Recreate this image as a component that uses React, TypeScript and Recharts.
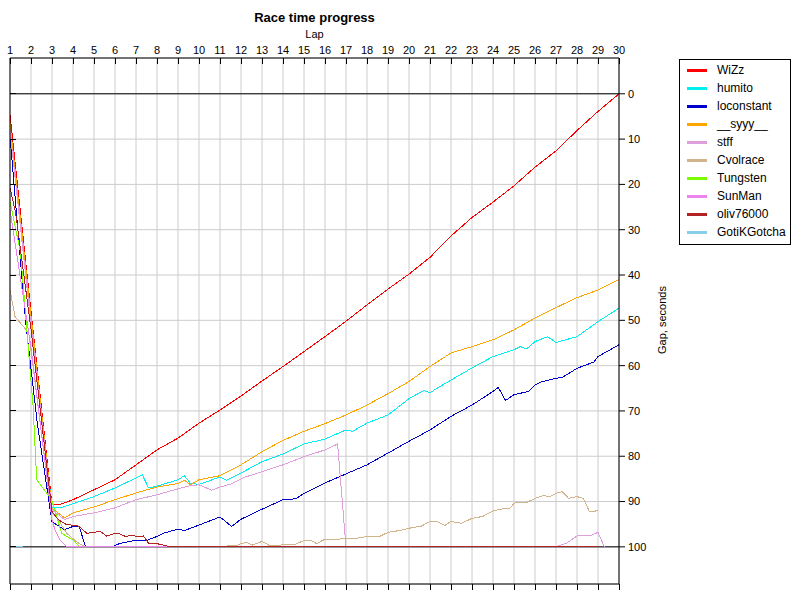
import React from 'react';
import { LineChart, Line, XAxis, YAxis, CartesianGrid, ReferenceLine } from 'recharts';

const LAP_TICKS = [1, 2, 3, 4, 5, 6, 7, 8, 9, 10, 11, 12, 13, 14, 15, 16, 17, 18, 19, 20, 21, 22, 23, 24, 25, 26, 27, 28, 29, 30];
const GAP_TICKS = [0, 10, 20, 30, 40, 50, 60, 70, 80, 90, 100];
const X_DOMAIN = [1, 30];
const Y_DOMAIN = [-7.9, 108.2];

const WIZZ_LAPS = [1, 2, 3, 3.4, 4, 5, 6, 7, 8, 9, 10, 11, 12, 13, 14, 15, 16, 17, 18, 19, 20, 21, 22, 23, 24, 25, 26, 27, 28, 29, 30];
const WIZZ_GAPS = [4.6, 48, 90.7, 90.6, 89.6, 87.4, 85.2, 81.9, 78.6, 76, 72.7, 69.8, 66.7, 63.4, 60.2, 56.9, 53.6, 50.2, 46.6, 43.1, 39.8, 36.1, 31.4, 27.3, 23.9, 20.3, 16.2, 12.6, 8.1, 3.9, 0];

const HUMITO_LAPS = [1, 2, 3, 3.4, 4, 5, 6, 7, 7.3, 7.6, 8, 9, 9.3, 9.6, 10, 11, 11.3, 12, 13, 14, 15, 16, 17, 17.3, 18, 19, 20, 20.7, 21, 21.4, 22, 23, 24, 25, 25.3, 25.6, 26, 26.6, 27, 28, 29, 30];
const HUMITO_GAPS = [7.9, 50, 91.2, 91.4, 90.5, 88.9, 87, 84.8, 84.1, 87, 86.6, 85.2, 84.3, 86, 86.2, 84.6, 85.3, 83.7, 81.2, 79.5, 77.3, 76.2, 74.2, 74.5, 72.7, 70.9, 67.3, 65.5, 66, 64.8, 63.2, 60.5, 58, 56.5, 55.8, 56.3, 54.7, 53.6, 54.9, 53.6, 50.3, 47.3];

const LOCONSTANT_LAPS = [1, 1.75, 2.3, 3, 3.6, 4, 4.3, 4.6, 5.85, 6.2, 6.5, 7, 7.5, 8, 8.3, 9, 9.3, 10, 11, 11.55, 12, 13, 14, 14.6, 15, 16, 17, 18, 19, 20, 21, 22, 23, 24, 24.25, 24.6, 25, 25.7, 26, 26.3, 27, 27.3, 28, 28.8, 29, 30];
const LOCONSTANT_GAPS = [9.4, 50.6, 72.7, 94.5, 96.2, 95.5, 95.6, 100, 100, 99.3, 99, 98.5, 98.6, 97.7, 97, 96.1, 96.4, 95.2, 93.4, 95.5, 93.9, 91.7, 89.6, 89.4, 88.2, 85.9, 83.9, 81.9, 79.3, 76.7, 74.2, 71.2, 68.7, 65.7, 64.8, 67.7, 66.4, 65.7, 64.3, 63.6, 62.8, 62.6, 60.6, 59.2, 58, 55.4];

const SYYY_LAPS = [1, 2, 3, 3.6, 4, 5, 6, 7, 8, 9, 9.3, 9.6, 10, 11, 12, 13, 14, 15, 16, 17, 18, 19, 20, 21, 22, 23, 24, 25, 26, 27, 28, 29, 30];
const SYYY_GAPS = [6.5, 49, 91.5, 93.6, 92.5, 91.2, 89.6, 88.1, 86.8, 86, 85.3, 86.3, 85.2, 84.3, 81.9, 79, 76.5, 74.5, 72.8, 70.9, 68.7, 66.2, 63.5, 60.2, 57.2, 55.8, 54.3, 52.1, 49.5, 47.2, 45, 43.3, 41];

const STFF_LAPS = [1, 2, 3, 3.6, 4, 5, 6, 7, 8, 9, 9.6, 10, 10.6, 11, 11.55, 12.2, 13, 14, 15, 16, 16.6, 17, 27, 27.5, 28, 28.6, 29, 29.3];
const STFF_GAPS = [8, 51, 91.8, 94, 93.3, 92.5, 91.4, 89.6, 88.5, 87.2, 86.5, 86.3, 87.5, 86.8, 86.1, 84.6, 83.4, 81.9, 80.1, 78.6, 77.3, 100, 100, 99.2, 97.6, 97.6, 96.8, 100];

const CVOLRACE_LAPS = [1, 1.24, 1.7, 1.9, 2.5, 3, 3.3, 3.7, 4.2, 4.6, 11.2, 11.4, 11.8, 12, 12.25, 12.55, 13, 13.35, 13.75, 14.2, 14.6, 15, 15.35, 15.6, 16, 16.5, 17, 17.5, 18, 18.6, 19, 19.55, 20, 20.6, 21, 21.3, 21.7, 22, 22.5, 23, 23.5, 24, 24.3, 24.8, 25, 25.25, 25.6, 26, 26.4, 26.7, 27, 27.3, 27.6, 28, 28.3, 28.6, 29];
const CVOLRACE_GAPS = [43.3, 49.2, 51.7, 53, 75, 92.5, 94, 97, 99, 100, 100, 99.7, 99.7, 99.3, 99, 99.6, 98.8, 99.7, 99.7, 99.4, 99.4, 98.6, 98.6, 99.3, 98.3, 98.4, 98.1, 98.1, 97.7, 97.7, 96.8, 96.4, 95.9, 95.4, 94.4, 94.3, 95.3, 94.4, 94.8, 93.7, 93.3, 92.1, 91.7, 91.5, 90.4, 90.1, 90.2, 89.3, 88.7, 88.9, 88.2, 87.8, 89.3, 88.9, 89.3, 92.3, 92];

const TUNGSTEN_LAPS = [1, 1.5, 2.1, 2.27, 2.98, 3.46, 4, 4.33];
const TUNGSTEN_GAPS = [23.8, 35, 69, 85.2, 89.6, 97, 98.5, 100];

const SUNMAN_LAPS = [1, 2, 3, 3.14, 3.38, 3.7, 28];
const SUNMAN_GAPS = [25.6, 56, 94, 96.2, 98.5, 100, 100];

const OLIV_LAPS = [1, 1.27, 2, 3, 3.3, 3.7, 4.2, 4.4, 4.65, 5, 5.3, 5.6, 6, 6.2, 6.5, 6.8, 7.1, 7.35, 7.6, 8, 8.3, 8.6, 29];
const OLIV_GAPS = [20.8, 26.3, 52, 92.2, 94, 95.1, 95.3, 95.9, 97, 96.8, 96.6, 97.6, 97, 97.1, 97.7, 97.5, 97.7, 97.6, 99.2, 99.3, 99.6, 100, 100];

const GOTIK_LAPS = [1.3, 1.62];
const GOTIK_GAPS = [100, 100];

const SERIES = [
  { name: 'WiZz', color: '#FF0000', laps: WIZZ_LAPS, gaps: WIZZ_GAPS },
  { name: 'humito', color: '#00F0F0', laps: HUMITO_LAPS, gaps: HUMITO_GAPS },
  { name: 'loconstant', color: '#0000CD', laps: LOCONSTANT_LAPS, gaps: LOCONSTANT_GAPS },
  { name: '__syyy__', color: '#FFA500', laps: SYYY_LAPS, gaps: SYYY_GAPS },
  { name: 'stff', color: '#DDA0DD', laps: STFF_LAPS, gaps: STFF_GAPS },
  { name: 'Cvolrace', color: '#D2B48C', laps: CVOLRACE_LAPS, gaps: CVOLRACE_GAPS },
  { name: 'Tungsten', color: '#7CFC00', laps: TUNGSTEN_LAPS, gaps: TUNGSTEN_GAPS },
  { name: 'SunMan', color: '#EE82EE', laps: SUNMAN_LAPS, gaps: SUNMAN_GAPS },
  { name: 'oliv76000', color: '#B22222', laps: OLIV_LAPS, gaps: OLIV_GAPS },
  { name: 'GotiKGotcha', color: '#87CEEB', laps: GOTIK_LAPS, gaps: GOTIK_GAPS },
];

const toRows = (laps: number[], gaps: number[]) => laps.map((lap, i) => ({ lap, gap: gaps[i] }));

const FONT = '"Liberation Sans", Arial, sans-serif';
const TICK_LEN = 6;
const CHART_W = 800;
const CHART_H = 600;
const MARGIN = { top: 0, right: 126, bottom: 0, left: 0 };
const TOP_AXIS_H = 58;
const BOTTOM_AXIS_H = 16;
const PLOT_BOTTOM = CHART_H - MARGIN.bottom - BOTTOM_AXIS_H;

// top axis: label above, tick mark pointing down into the plot, plus the
// matching outward tick under the plot's bottom edge
const TopTick = (props: any) => {
  const { x, y, payload } = props;
  return (
    <g>
      <line x1={x} x2={x} y1={y + 4} y2={y + 4 + TICK_LEN} stroke="#000" shapeRendering="crispEdges" />
      <line x1={x} x2={x} y1={PLOT_BOTTOM} y2={PLOT_BOTTOM + TICK_LEN} stroke="#000" shapeRendering="crispEdges" />
      <text x={x} y={y} textAnchor="middle" fill="#000" fontSize={11}>{payload.value}</text>
    </g>
  );
};

// left axis: tick mark only, pointing right into the plot
const LeftTick = (props: any) => {
  const { x, y } = props;
  return <line x1={x} x2={x + TICK_LEN} y1={y} y2={y} stroke="#000" shapeRendering="crispEdges" />;
};

export default function App() {
  return (
    <div style={{ position: 'absolute', left: 0, top: 0, width: CHART_W, height: CHART_H, background: '#fff', fontFamily: FONT }}>
      <LineChart width={CHART_W} height={CHART_H} margin={MARGIN}>
        <CartesianGrid xAxisId="t" yAxisId="r" stroke="#cccccc" strokeWidth={1} />
        <XAxis
          xAxisId="t"
          orientation="top"
          type="number"
          dataKey="lap"
          domain={X_DOMAIN}
          allowDataOverflow
          ticks={LAP_TICKS}
          interval={0}
          height={TOP_AXIS_H}
          tickSize={0}
          tickMargin={4}
          axisLine={{ stroke: '#000' }}
          tickLine={false}
          tick={<TopTick />}
        />
        <XAxis
          xAxisId="b"
          orientation="bottom"
          type="number"
          dataKey="lap"
          domain={X_DOMAIN}
          allowDataOverflow
          ticks={LAP_TICKS}
          interval={0}
          height={BOTTOM_AXIS_H}
          tickLine={false}
          tick={false}
          axisLine={{ stroke: '#000' }}
        />
        <YAxis
          yAxisId="l"
          orientation="left"
          type="number"
          domain={Y_DOMAIN}
          allowDataOverflow
          reversed
          ticks={GAP_TICKS}
          interval={0}
          width={10}
          tickSize={0}
          tickMargin={0}
          tickLine={false}
          tick={<LeftTick />}
          axisLine={{ stroke: '#000' }}
        />
        <YAxis
          yAxisId="r"
          orientation="right"
          type="number"
          domain={Y_DOMAIN}
          allowDataOverflow
          reversed
          ticks={GAP_TICKS}
          interval={0}
          width={55}
          tickSize={6}
          tickMargin={3}
          axisLine={{ stroke: '#000' }}
          tickLine={{ stroke: '#000' }}
          tick={{ fill: '#000', fontSize: 11 }}
        />
        <ReferenceLine xAxisId="t" yAxisId="r" y={0} stroke="#000" strokeWidth={1} />
        <ReferenceLine xAxisId="t" yAxisId="r" y={100} stroke="#000" strokeWidth={1} />
        {SERIES.map((s) => (
          <Line
            key={s.name}
            xAxisId="t"
            yAxisId="r"
            data={toRows(s.laps, s.gaps)}
            dataKey="gap"
            name={s.name}
            type="linear"
            stroke={s.color}
            strokeWidth={1}
            dot={false}
            activeDot={false}
            isAnimationActive={false}
            shapeRendering="crispEdges"
          />
        ))}
      </LineChart>
      <div style={{ position: 'absolute', left: 0, top: 10, width: 629, textAlign: 'center', fontSize: 13, fontWeight: 'bold', lineHeight: '16px' }}>
        Race time progress
      </div>
      <div style={{ position: 'absolute', left: 0, top: 27, width: 629, textAlign: 'center', fontSize: 11, lineHeight: '14px' }}>
        Lap
      </div>
      <div style={{ position: 'absolute', left: 602, top: 313, width: 120, height: 14, textAlign: 'center', fontSize: 11, lineHeight: '14px', transform: 'rotate(-90deg)' }}>
        Gap, seconds
      </div>
      <div style={{ position: 'absolute', left: 679, top: 59, width: 110, height: 183, border: '1px solid #000', paddingTop: 1, boxSizing: 'content-box' }}>
        {SERIES.map((s) => (
          <div key={s.name} style={{ height: 18, display: 'flex', alignItems: 'center', fontSize: 12 }}>
            <div style={{ width: 20, height: 3, background: s.color, marginLeft: 7, marginRight: 10 }} />
            <span style={{ lineHeight: '18px' }}>{s.name}</span>
          </div>
        ))}
      </div>
    </div>
  );
}
